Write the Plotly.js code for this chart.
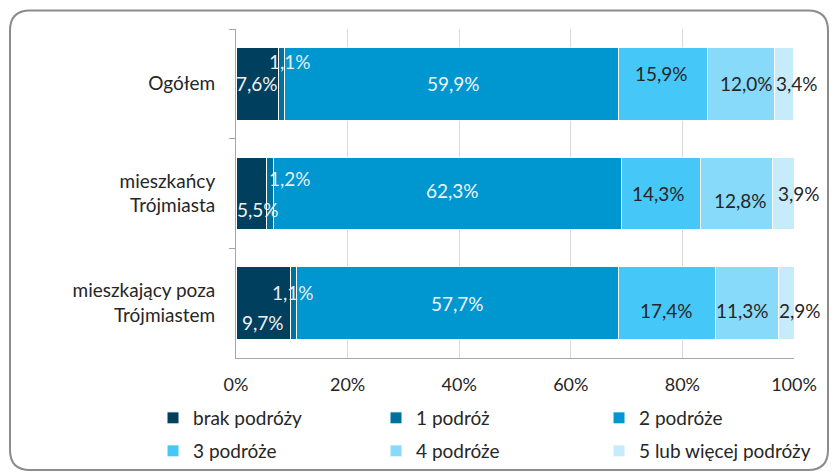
<!DOCTYPE html>
<html>
<head>
<meta charset="utf-8">
<script src="https://cdn.plot.ly/plotly-3.0.1.min.js"></script>
<style>html,body{margin:0;padding:0;background:#fff;}#chart{width:832px;height:473px;}</style>
</head>
<body>
<div id="chart"></div>
<script>
// ---- data ----
const categories = ["Ogółem", "mieszkańcy<br>Trójmiasta", "mieszkający poza<br>Trójmiastem"];
const seriesNames = ["brak podróży", "1 podróż", "2 podróże", "3 podróże", "4 podróże", "5 lub więcej podróży"];
const brakPodrozy = [7.6, 5.5, 9.7];
const jednaPodroz = [1.1, 1.2, 1.1];
const dwiePodroze = [59.9, 62.3, 57.7];
const trzyPodroze = [15.9, 14.3, 17.4];
const czteryPodroze = [12.0, 12.8, 11.3];
const piecWiecej = [3.4, 3.9, 2.9];
const xTickVals = [0, 20, 40, 60, 80, 100];
const xTickText = ["0%", "20%", "40%", "60%", "80%", "100%"];

// ---- style ----
const colors = ["#00405E", "#00709C", "#0096D0", "#45C8F7", "#88DAFB", "#C6ECFC"];
const textColors = ["#F2F2F2", "#E6EEF2", "#EEF6FA", "#262626", "#262626", "#262626"];
// label offsets [series][category] = [xshift, yshift] in px
const labelOffsets = [
  [[0, 0], [7, -16], [0, -19]],
  [[9, 22], [20, 15], [0, 11]],
  [[2, 0], [5, 3], [0, 0]],
  [[-2, 10], [-2, 0], [0, -7]],
  [[6, 0], [4, -7], [-4, -7]],
  [[13, 0], [16, 0], [14, -7]]
];
const legendOf = ["legend", "legend", "legend", "legend2", "legend2", "legend2"];
const FONT = "Lato, 'Open Sans', sans-serif";
const FS = 19;

const allSeries = [brakPodrozy, jednaPodroz, dwiePodroze, trzyPodroze, czteryPodroze, piecWiecej];

const traces = allSeries.map((vals, i) => ({
  type: "bar",
  orientation: "h",
  name: seriesNames[i],
  x: vals,
  y: categories,
  legend: legendOf[i],
  marker: {color: colors[i], line: {color: "#FFFFFF", width: 1}},
  hoverinfo: "skip"
}));

const annotations = [];
categories.forEach((cat, c) => {
  let cum = 0;
  allSeries.forEach((vals, s) => {
    const v = vals[c];
    const mid = cum + v / 2;
    cum += v;
    annotations.push({
      x: mid, y: cat, xref: "x", yref: "y",
      text: v.toFixed(1).replace(".", ",") + "%",
      showarrow: false,
      xshift: labelOffsets[s][c][0],
      yshift: labelOffsets[s][c][1],
      font: {family: FONT, size: FS, color: textColors[s]}
    });
  });
});

// rounded frame (pixel -> paper)
const L = 236, R = 794, T = 29, B = 358;
const W = R - L, H = B - T;
const px = p => (p - L) / W;
const py = p => (B - p) / H;
const fx0 = 10, fx1 = 828, fy0 = 10.5, fy1 = 470, rad = 20;
const framePath =
  `M ${px(fx0 + rad)} ${py(fy0)} L ${px(fx1 - rad)} ${py(fy0)} ` +
  `Q ${px(fx1)} ${py(fy0)} ${px(fx1)} ${py(fy0 + rad)} ` +
  `L ${px(fx1)} ${py(fy1 - rad)} Q ${px(fx1)} ${py(fy1)} ${px(fx1 - rad)} ${py(fy1)} ` +
  `L ${px(fx0 + rad)} ${py(fy1)} Q ${px(fx0)} ${py(fy1)} ${px(fx0)} ${py(fy1 - rad)} ` +
  `L ${px(fx0)} ${py(fy0 + rad)} Q ${px(fx0)} ${py(fy0)} ${px(fx0 + rad)} ${py(fy0)} Z`;

const legendBase = {
  orientation: "h",
  x: px(153), xanchor: "left",
  yanchor: "middle",
  entrywidth: 178, entrywidthmode: "pixels",
  traceorder: "normal",
  font: {family: FONT, size: FS, color: "#262626"},
  bgcolor: "rgba(0,0,0,0)",
  itemclick: false
};

const layout = {
  width: 832, height: 473,
  margin: {l: L, r: 832 - R, t: T, b: 473 - B, pad: 0, autoexpand: false},
  paper_bgcolor: "#FFFFFF", plot_bgcolor: "#FFFFFF",
  barmode: "stack",
  bargap: 0.34,
  font: {family: FONT, size: FS, color: "#262626"},
  showlegend: true,
  legend: Object.assign({}, legendBase, {y: py(418)}),
  legend2: Object.assign({}, legendBase, {y: py(451)}),
  xaxis: {
    range: [0, 100],
    tickvals: xTickVals, ticktext: xTickText,
    showgrid: true, gridcolor: "#D9D9D9", gridwidth: 1,
    zeroline: false,
    showline: true, linecolor: "#A6A6A6", linewidth: 1,
    ticks: "", ticklabelstandoff: 10,
    tickfont: {family: FONT, size: 18, color: "#262626"},
    automargin: false,
    fixedrange: true
  },
  yaxis: {
    type: "category",
    categoryorder: "array", categoryarray: categories,
    autorange: "reversed",
    showgrid: false, zeroline: false,
    showline: true, linecolor: "#A6A6A6", linewidth: 1,
    ticks: "outside", ticklen: 6, tickcolor: "#A6A6A6", tickson: "boundaries",
    ticklabelstandoff: 16,
    tickfont: {family: FONT, size: FS, color: "#262626"},
    automargin: false,
    fixedrange: true
  },
  annotations: annotations,
  shapes: [{
    type: "path", xref: "paper", yref: "paper", path: framePath,
    line: {color: "#8C8C8C", width: 2}, fillcolor: "rgba(0,0,0,0)", layer: "below"
  }]
};

Plotly.newPlot("chart", traces, layout, {displayModeBar: false, staticPlot: true});
</script>
</body>
</html>
